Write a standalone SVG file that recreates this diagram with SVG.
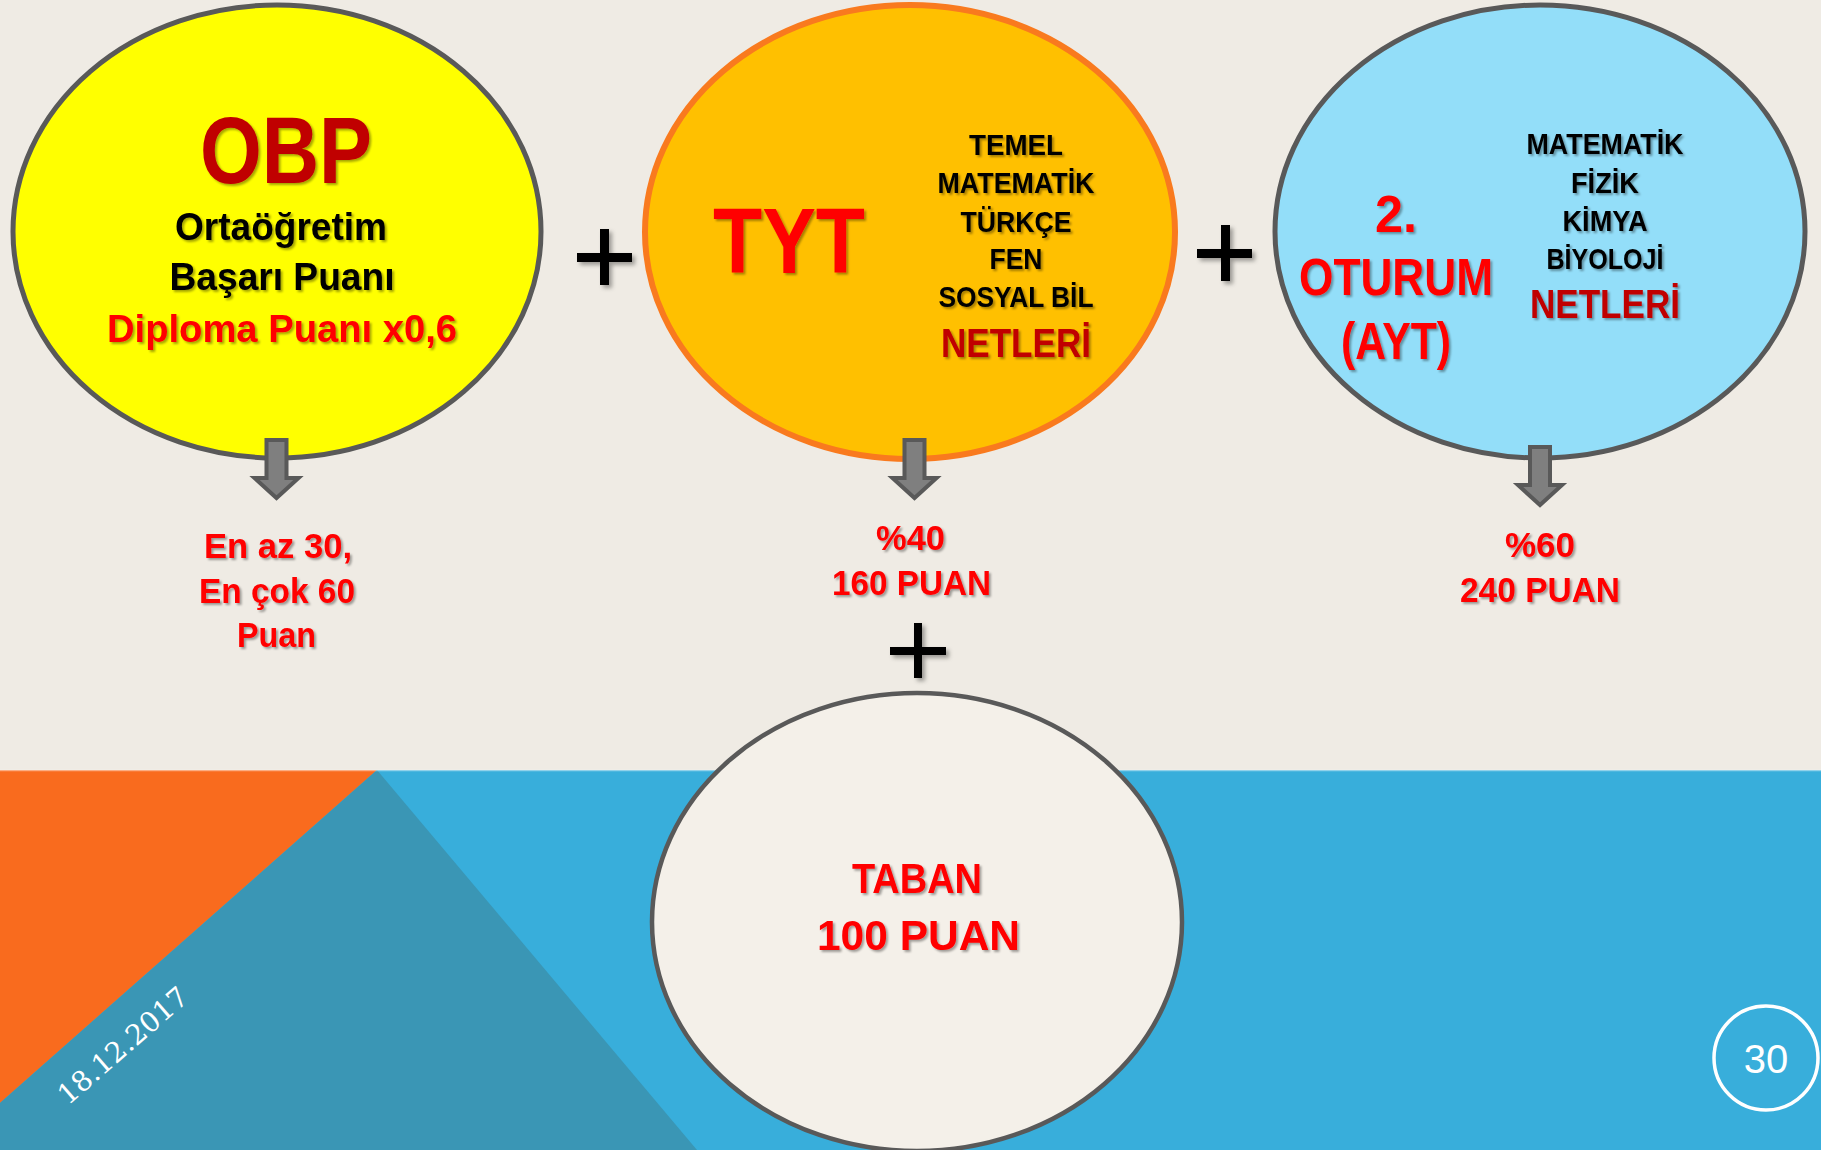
<svg xmlns="http://www.w3.org/2000/svg" width="1821" height="1150" viewBox="0 0 1821 1150">
  <defs>
    <filter id="sh" x="-10%" y="-10%" width="130%" height="140%">
      <feDropShadow dx="2" dy="2" stdDeviation="1.3" flood-color="#000" flood-opacity="0.35"/>
    </filter>
    <filter id="sh2" x="-20%" y="-20%" width="150%" height="150%">
      <feDropShadow dx="3" dy="3" stdDeviation="2" flood-color="#000" flood-opacity="0.35"/>
    </filter>
  </defs>
  <style>
    .t { font-family: "Liberation Sans", Arial, sans-serif; text-anchor: middle; filter: url(#sh); }
    .b { font-weight: bold; }
    .red { fill: #FF0000; }
    .dred { fill: #C00000; }
    .blk { fill: #000000; }
    .node { stroke-width: 5; }
    .arrow { fill: #7F7F7F; stroke: #595959; stroke-width: 4; stroke-linejoin: miter; }
    .plus { fill: #000000; filter: url(#sh2); }
  </style>

  <!-- background -->
  <rect x="0" y="0" width="1821" height="1150" fill="#EFEBE4"/>
  <rect x="0" y="770" width="1821" height="380" fill="#38AEDB"/>
  <polygon points="0,770 377,770 0,1103" fill="#F96B1E"/>
  <polygon points="377,770 697,1150 0,1150 0,1103" fill="#3A96B5"/>
  <line x1="0" y1="770.5" x2="1821" y2="770.5" stroke="#FFFFFF" stroke-opacity="0.45" stroke-width="1.5"/>

  <!-- date and page number -->
  <text x="68" y="1106" transform="rotate(-41 68 1106)" font-family="DejaVu Serif, serif" font-size="28" fill="#FFFFFF" textLength="162" lengthAdjust="spacingAndGlyphs">18.12.2017</text>
  <g id="page-number">
    <circle cx="1766" cy="1058" r="52" fill="none" stroke="#FFFFFF" stroke-width="3.5"/>
    <text x="1766" y="1073" font-family="Liberation Sans, Arial, sans-serif" font-size="40" fill="#FFFFFF" text-anchor="middle">30</text>
  </g>

  <!-- OBP node -->
  <g id="node-obp">
    <ellipse class="node" cx="277" cy="231.5" rx="264" ry="226.5" fill="#FFFF00" stroke="#595959"/>
    <text class="t b dred" x="286" y="183" font-size="95" textLength="172" lengthAdjust="spacingAndGlyphs">OBP</text>
    <text class="t b blk" x="281" y="240" font-size="38" textLength="212" lengthAdjust="spacingAndGlyphs">Ortaöğretim</text>
    <text class="t b blk" x="282" y="290" font-size="38" textLength="225" lengthAdjust="spacingAndGlyphs">Başarı Puanı</text>
    <text class="t b red" x="282" y="342" font-size="38" textLength="350" lengthAdjust="spacingAndGlyphs">Diploma Puanı x0,6</text>
  </g>

  <!-- TYT node -->
  <g id="node-tyt">
    <ellipse cx="910" cy="232" rx="265" ry="227" fill="#FFC000" stroke="#F97A1E" stroke-width="6"/>
    <text class="t b red" x="789" y="273" font-size="92" textLength="152" lengthAdjust="spacingAndGlyphs">TYT</text>
    <text class="t b blk" x="1016" y="155" font-size="30" textLength="94" lengthAdjust="spacingAndGlyphs">TEMEL</text>
    <text class="t b blk" x="1016" y="193" font-size="30" textLength="157" lengthAdjust="spacingAndGlyphs">MATEMATİK</text>
    <text class="t b blk" x="1016" y="232" font-size="30" textLength="111" lengthAdjust="spacingAndGlyphs">TÜRKÇE</text>
    <text class="t b blk" x="1016" y="269" font-size="30" textLength="53" lengthAdjust="spacingAndGlyphs">FEN</text>
    <text class="t b blk" x="1016" y="307" font-size="30" textLength="155" lengthAdjust="spacingAndGlyphs">SOSYAL BİL</text>
    <text class="t b dred" x="1016" y="357" font-size="40" textLength="150" lengthAdjust="spacingAndGlyphs">NETLERİ</text>
  </g>

  <!-- AYT node -->
  <g id="node-ayt">
    <ellipse class="node" cx="1540" cy="231.5" rx="265" ry="226.5" fill="#93DEF9" stroke="#595959"/>
    <text class="t b red" x="1396" y="232" font-size="51" textLength="42" lengthAdjust="spacingAndGlyphs">2.</text>
    <text class="t b red" x="1396" y="295" font-size="51" textLength="194" lengthAdjust="spacingAndGlyphs">OTURUM</text>
    <text class="t b red" x="1396" y="359" font-size="51" textLength="110" lengthAdjust="spacingAndGlyphs">(AYT)</text>
    <text class="t b blk" x="1605" y="154" font-size="30" textLength="157" lengthAdjust="spacingAndGlyphs">MATEMATİK</text>
    <text class="t b blk" x="1605" y="193" font-size="30" textLength="68" lengthAdjust="spacingAndGlyphs">FİZİK</text>
    <text class="t b blk" x="1605" y="231" font-size="30" textLength="85" lengthAdjust="spacingAndGlyphs">KİMYA</text>
    <text class="t b blk" x="1605" y="269" font-size="30" textLength="117" lengthAdjust="spacingAndGlyphs">BİYOLOJİ</text>
    <text class="t b dred" x="1605" y="318" font-size="40" textLength="150" lengthAdjust="spacingAndGlyphs">NETLERİ</text>
  </g>

  <!-- TABAN node -->
  <g id="node-taban">
    <ellipse cx="917" cy="922" rx="265" ry="229" fill="#F4F0E9" stroke="#595959" stroke-width="4.5"/>
    <text class="t b red" x="917" y="893" font-size="43" textLength="130" lengthAdjust="spacingAndGlyphs">TABAN</text>
    <text class="t b red" x="918.5" y="950" font-size="43" textLength="203" lengthAdjust="spacingAndGlyphs">100 PUAN</text>
  </g>

  <!-- score labels -->
  <g id="label-obp">
    <text class="t b red" x="278" y="558" font-size="35" textLength="148" lengthAdjust="spacingAndGlyphs">En az 30,</text>
    <text class="t b red" x="277" y="603" font-size="35" textLength="156" lengthAdjust="spacingAndGlyphs">En çok 60</text>
    <text class="t b red" x="276.5" y="647" font-size="35" textLength="79" lengthAdjust="spacingAndGlyphs">Puan</text>
  </g>
  <g id="label-tyt">
    <text class="t b red" x="910.5" y="550" font-size="35" textLength="69" lengthAdjust="spacingAndGlyphs">%40</text>
    <text class="t b red" x="911.5" y="595" font-size="35" textLength="159" lengthAdjust="spacingAndGlyphs">160 PUAN</text>
  </g>
  <g id="label-ayt">
    <text class="t b red" x="1540" y="557" font-size="35" textLength="70" lengthAdjust="spacingAndGlyphs">%60</text>
    <text class="t b red" x="1540" y="602" font-size="35" textLength="160" lengthAdjust="spacingAndGlyphs">240 PUAN</text>
  </g>

  <!-- connectors: arrows and plus signs -->
  <g id="connectors">
    <path class="arrow" d="M266.5,440 H286.5 V478 H298.5 L276.5,498 L254.5,478 H266.5 Z"/>
    <path class="arrow" d="M904.5,440 H924.5 V478 H936.5 L914.5,498 L892.5,478 H904.5 Z"/>
    <path class="arrow" d="M1530,447 H1550 V485 H1562 L1540,505 L1518,485 H1530 Z"/>
    <g class="plus">
      <rect x="577" y="253" width="55" height="9"/>
      <rect x="600" y="229" width="9" height="56"/>
    </g>
    <g class="plus">
      <rect x="1197" y="249" width="55" height="9"/>
      <rect x="1221" y="225" width="9" height="56"/>
    </g>
    <g class="plus">
      <rect x="890" y="647" width="56" height="8"/>
      <rect x="914" y="623" width="8" height="55"/>
    </g>
  </g>
</svg>
